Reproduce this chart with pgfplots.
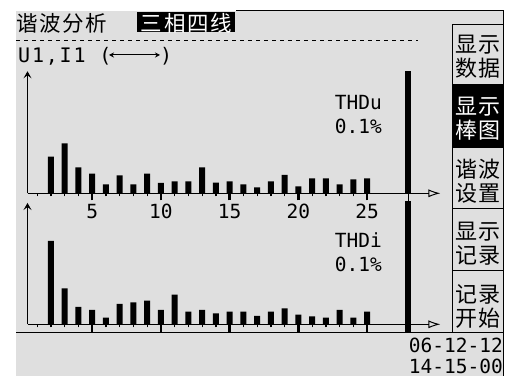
\documentclass[border=0pt]{standalone}
\usepackage{fontspec}
\usepackage{graphicx}
\usepackage{pgfplots}
\pgfplotsset{compat=1.18}
\usetikzlibrary{arrows.meta}
\newfontfamily\cjk{Noto Sans CJK SC}[LetterSpace=8]
\newfontfamily\mono{DejaVu Sans Mono}
\newfontfamily\monows{DejaVu Sans Mono}[LetterSpace=9]
\definecolor{scr}{RGB}{223,223,223}
\pgfplotsset{
  harm/.style={
    x=13.75pt, y=1pt, xmin=0.2945, xmax=30.33, ymin=0,
    enlargelimits=false, clip=false,
    axis lines=left,
    axis line style={line width=1pt, black},
    x axis line style={-{Latex[open,length=12pt,width=8pt]}},
    y axis line style={-{Stealth[length=7pt,width=8pt,inset=3pt]}},
    ytick=\empty,
    xtick={5,10,15,20,25},
    minor xtick={1,...,25},
    tick align=outside,
    every tick/.style={black},
    every major tick/.append style={line width=2.5pt},
    every minor tick/.append style={line width=1.3pt},
    minor tick length=3pt,
  },
  hbar/.style={ybar, bar width=6pt, bar shift=0pt, fill=black, draw=none},
}
\begin{document}
\begin{tikzpicture}[x=1pt,y=1pt]
\fill[white] (0,0) rectangle (512,376);
\fill[scr] (16,0) rectangle (503.5,365);
\draw[line width=1pt] (503.5,0) -- (503.5,365);
\draw[line width=1pt] (236,365) -- (503.5,365);
% title
\node[anchor=west, inner sep=0pt, font=\cjk\fontsize{21.5}{21.5}\selectfont] at (16,352.3) {谐波分析};
\fill[black] (136.5,344.3) rectangle (235,364.3);
\node[inner sep=0pt, text=white, font=\cjk\fontsize{21.5}{21.5}\selectfont] at (186.5,352.6) {三相四线};
\draw[dash pattern=on 4pt off 4pt, line width=1pt] (16,335) -- (418,335);
\node[anchor=base west, inner sep=0pt, font=\monows\fontsize{20}{20}\selectfont] at (18,313) {U1,I1 (};
\draw[{Stealth[length=5pt,width=5pt]}-{Stealth[length=5pt,width=5pt]}, line width=1pt] (109,321) -- (160,321);
\node[anchor=base west, inner sep=0pt, font=\mono\fontsize{20}{20}\selectfont] at (160,313) {)};

% upper plot
\begin{axis}[harm, at={(20,182.7)}, anchor=south west, ymax=122,
  major tick length=7pt,
  xticklabels={5,10,15,20,25},
  xticklabel style={font=\mono\fontsize{19.5}{19.5}\selectfont, anchor=base, inner sep=0pt, yshift=-18pt},
  extra x ticks={28}, extra x tick labels={},
  extra x tick style={major tick length=7.5pt, every major tick/.append style={line width=1.5pt}},
]
\addplot[hbar] coordinates {
(1,0) (2,36.7) (3,50) (4,26) (5,19.7) (6,9) (7,18) (8,9) (9,19.7) (10,10.3)
(11,12) (12,12) (13,26) (14,10.7) (15,12) (16,9) (17,6) (18,12) (19,18.3) (20,7)
(21,15) (22,15) (23,9) (24,14) (25,15)};
\addplot[hbar] coordinates {(28,122.6)};
\end{axis}
\node[anchor=base east, inner sep=0pt, font=\mono\fontsize{19.5}{19.5}\selectfont] at (382,266) {THDu};
\node[anchor=base east, inner sep=0pt, font=\mono\fontsize{19.5}{19.5}\selectfont] at (382,242) {0.1\%};

% lower plot
\begin{axis}[harm, at={(20,51.7)}, anchor=south west, ymax=121.3,
  major tick length=8pt,
  xticklabels={},
  extra x ticks={28}, extra x tick labels={},
  extra x tick style={major tick length=8pt, every major tick/.append style={line width=6pt}},
]
\addplot[hbar] coordinates {
(1,0) (2,83.3) (3,36) (4,17.3) (5,14.3) (6,6.7) (7,20.3) (8,22) (9,23.7) (10,14.3)
(11,29.7) (12,12.7) (13,14.3) (14,11) (15,12.7) (16,12.7) (17,8.3) (18,12.7) (19,16) (20,9.7)
(21,8) (22,6.7) (23,14.3) (24,6.7) (25,12.7)};
\addplot[hbar] coordinates {(28,123.6)};
\end{axis}
\node[anchor=base east, inner sep=0pt, font=\mono\fontsize{19.5}{19.5}\selectfont] at (382,128) {THDi};
\node[anchor=base east, inner sep=0pt, font=\mono\fontsize{19.5}{19.5}\selectfont] at (382,104) {0.1\%};

% divider
\draw[line width=1pt] (16,43.7) -- (503.5,43.7);
% right panel
\fill[black] (452.3,228.3) rectangle (503.5,291);
\draw[line width=1pt] (452.3,351) -- (452.3,43.7);
\foreach \yy in {351,291,228.3,167.7,105.3}{\draw[line width=1pt] (452.3,\yy) -- (503.5,\yy);}
\node[inner sep=0pt, align=center, font=\cjk\fontsize{22}{24}\selectfont] at (478,319) {显示\\数据};
\node[inner sep=0pt, align=center, text=white, font=\cjk\fontsize{22}{24}\selectfont] at (478,257) {显示\\棒图};
\node[inner sep=0pt, align=center, font=\cjk\fontsize{22}{24}\selectfont] at (478,195) {谐波\\设置};
\node[inner sep=0pt, align=center, font=\cjk\fontsize{22}{24}\selectfont] at (478,132) {显示\\记录};
\node[inner sep=0pt, align=center, font=\cjk\fontsize{22}{24}\selectfont] at (478,70) {记录\\开始};
% date
\node[anchor=base east, inner sep=0pt, font=\mono\fontsize{19.5}{19.5}\selectfont] at (503,23) {06-12-12};
\node[anchor=base east, inner sep=0pt, font=\mono\fontsize{19.5}{19.5}\selectfont] at (503,2.7) {14-15-00};
\end{tikzpicture}
\end{document}
